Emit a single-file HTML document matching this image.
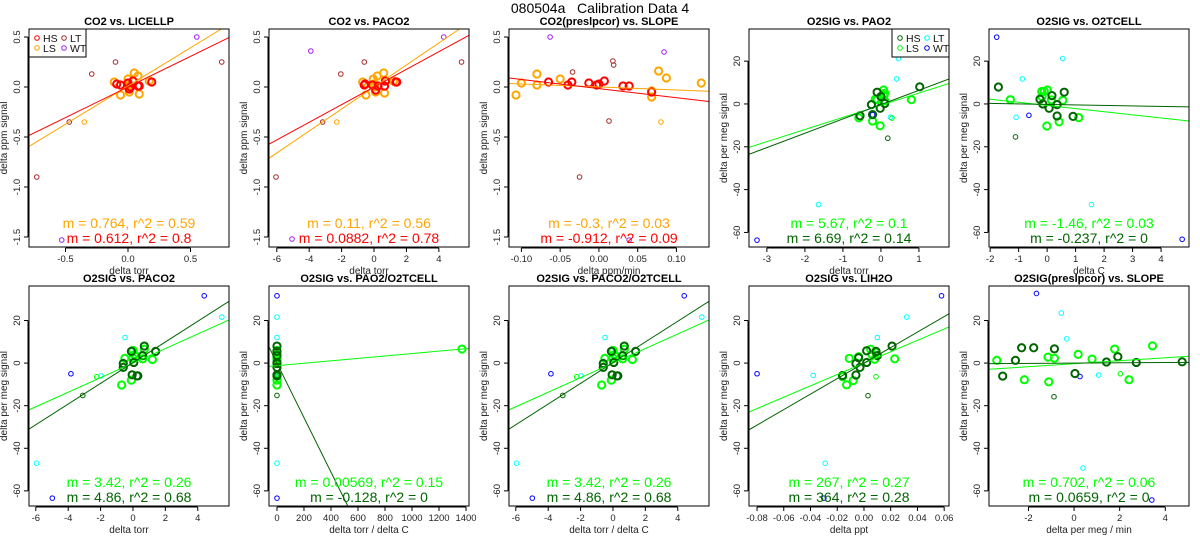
<!DOCTYPE html>
<html><head><meta charset="utf-8"><style>
html,body{margin:0;padding:0;background:#fff;width:1200px;height:550px;overflow:hidden;}
svg{display:block;font-family:"Liberation Sans",sans-serif;}
</style></head><body>
<svg id="chart" width="1200" height="550" viewBox="0 0 1200 550" xmlns="http://www.w3.org/2000/svg">
<rect width="1200" height="550" fill="#fff"/>
<text x="600" y="13" text-anchor="middle" font-size="14">080504a&#160;&#160;&#160;Calibration Data 4</text>
</svg>
<script>
// ---- data ----
const titles = ["CO2 vs. LICELLP","CO2 vs. PACO2","CO2(preslpcor) vs. SLOPE","O2SIG vs. PAO2","O2SIG vs. O2TCELL","O2SIG vs. PACO2","O2SIG vs. PAO2/O2TCELL","O2SIG vs. PACO2/O2TCELL","O2SIG vs. LIH2O","O2SIG(preslpcor) vs. SLOPE"];
const xLabels = ["delta torr","delta torr","delta ppm/min","delta torr","delta C","delta torr","delta torr / delta C","delta torr / delta C","delta ppt","delta per meg / min"];
const yLabels = ["delta ppm signal","delta ppm signal","delta ppm signal","delta per meg signal","delta per meg signal","delta per meg signal","delta per meg signal","delta per meg signal","delta per meg signal","delta per meg signal"];
const xRanges = [[-0.792,0.808],[-6.48,5.86],[-0.116,0.142],[-3.47,1.79],[-2.04,4.98],[-6.42,5.93],[-59,1422],[-6.42,5.93],[-0.086,0.0636],[-3.73,5.04]];
const xTicks = [[-0.5,0,0.5],[-6,-4,-2,0,2,4],[-0.1,-0.05,0,0.05,0.1],[-3,-2,-1,0,1],[-2,-1,0,1,2,3,4],[-6,-4,-2,0,2,4],[0,200,400,600,800,1000,1200,1400],[-6,-4,-2,0,2,4],[-0.08,-0.06,-0.04,-0.02,0,0.02,0.04,0.06],[-2,0,2,4]];
const xTickLabels = [["-0.5","0.0","0.5"],["-6","-4","-2","0","2","4"],["-0.10","-0.05","0.00","0.05","0.10"],["-3","-2","-1","0","1"],["-2","-1","0","1","2","3","4"],["-6","-4","-2","0","2","4"],["0","200","400","600","800","1000","1200","1400"],["-6","-4","-2","0","2","4"],["-0.08","-0.06","-0.04","-0.02","0.00","0.02","0.04","0.06"],["-2","0","2","4"]];
const yTicksCO2 = [-1.5,-1,-0.5,0,0.5];
const yTickLabelsCO2 = ["-1.5","-1.0","-0.5","0.0","0.5"];
const yTicksO2 = [-60,-40,-20,0,20];
const yTickLabelsO2 = ["-60","-40","-20","0","20"];
const slopesHS = [0.612,0.0882,-0.912,6.69,-0.237,4.86,-0.128,4.86,364,0.0659];
const interceptsHS = [0,0,-0.016,-0.3,-0.2,0.2,0,0.2,0,0];
const slopesLS = [0.764,0.11,-0.3,5.67,-1.46,3.42,0.00569,3.42,267,0.702];
const interceptsLS = [0.01,0,0,-0.6,-0.7,0,-1.2,0,0,-0.3];
const statsLS = ["m = 0.764, r^2 = 0.59","m = 0.11, r^2 = 0.56","m = -0.3, r^2 = 0.03","m = 5.67, r^2 = 0.1","m = -1.46, r^2 = 0.03","m = 3.42, r^2 = 0.26","m = 0.00569, r^2 = 0.15","m = 3.42, r^2 = 0.26","m = 267, r^2 = 0.27","m = 0.702, r^2 = 0.06"];
const statsHS = ["m = 0.612, r^2 = 0.8","m = 0.0882, r^2 = 0.78","m = -0.912, r^2 = 0.09","m = 6.69, r^2 = 0.14","m = -0.237, r^2 = 0","m = 4.86, r^2 = 0.68","m = -0.128, r^2 = 0","m = 4.86, r^2 = 0.68","m = 364, r^2 = 0.28","m = 0.0659, r^2 = 0"];

const p1HS=[[-0.09,0.03],[-0.06,0.02],[0,0.04],[0.01,-0.02],[0.04,0.06],[0.08,0.01],[0.09,0.01],[0.19,0.05],[0.02,0]];
const p1LS=[[-0.11,0.05],[-0.06,-0.08],[0,0.08],[0,0.03],[0.01,-0.02],[0.01,-0.05],[0.05,0.14],[0.08,0.11],[0.09,-0.07],[0.17,0.06],[0,0]];
const p1LT=[[-0.29,0.13],[-0.1,0.25],[0.75,0.25],[-0.47,-0.35],[-0.73,-0.9]];
const p1WT=[[0.55,0.5],[-0.53,-1.53]];
const p1XHS=[];const p1XLS=[[-0.35,-0.35]];
const p2HS=[[-0.6,0.02],[-0.55,0.03],[-0.1,0.02],[0.1,-0.03],[0.25,0.01],[0.65,0.01],[0.7,0.06],[1.35,0.05],[1.4,0.05]];
const p2LS=[[-0.7,0.05],[-0.5,-0.08],[-0.05,0.08],[0,0.03],[0.1,-0.05],[0.2,0.11],[0.6,0.14],[0.65,-0.06],[1.2,0.06],[0.05,0]];
const p2LT=[[-2.05,0.13],[-0.6,0.25],[5.4,0.25],[-3.17,-0.35],[-6.05,-0.9]];
const p2WT=[[-3.9,0.36],[4.3,0.5],[-5.06,-1.52]];
const p2XHS=[];const p2XLS=[[-2.3,-0.35]];
const p3HS=[[-0.065,0.05],[-0.04,0.02],[-0.035,0.05],[-0.013,0.04],[-0.003,0.02],[0,0.03],[0.007,0.06],[0.031,0.01],[0.039,0.01],[0.068,-0.05]];
const p3LS=[[-0.107,-0.08],[-0.1,0.04],[-0.08,0.13],[-0.08,0.02],[-0.05,0.08],[0.068,-0.04],[0.068,-0.1],[0.077,0.16],[0.087,0.09],[0.132,0.04]];
const p3LT=[[-0.034,0.15],[0.018,0.26],[0.019,0.22],[0.013,-0.34],[-0.025,-0.9]];
const p3WT=[[-0.063,0.5],[0.084,0.35],[0.039,-1.53]];
const p3XHS=[];const p3XLS=[[0.08,-0.35]];
const p4HS=[[-0.55,-5.5],[-0.25,-0.3],[-0.1,5.5],[-0.02,-2],[0.1,0.2],[-0.22,-5],[1.02,8],[0,3.5]];
const p4LS=[[-0.58,-6.5],[-0.22,-8],[-0.15,2.2],[-0.02,-10.2],[0.07,6.5],[0.08,4],[0.1,5],[0.8,2],[0.1,1.5],[-0.1,2]];
const p4LT=[[0.46,21.2],[0.41,11.7],[0.25,-6.2],[-1.64,-47]];
const p4WT=[[-3.26,-63.6],[-0.22,-5]];
const p4XHS=[[0.18,-16]];const p4XLS=[[0.29,-6.6]];
const p5HS=[[-1.71,7.9],[-0.25,2.2],[-0.15,0],[0.07,-2],[0.17,3.9],[0.35,-0.3],[0.35,-5.6],[0.6,5.5],[0.91,-5.8]];
const p5LS=[[-1.29,2],[-0.19,5.8],[-0.1,5.9],[0.01,6.5],[0.15,1.9],[0.55,1.7],[-0.01,-10.3],[0.42,-8.3],[1.11,-6.4],[-0.18,3.4]];
const p5LT=[[-0.87,11.7],[0.55,21.2],[-1.09,-6.2],[1.56,-47]];
const p5WT=[[-1.77,31.2],[-0.64,-5.3],[4.74,-63.2]];
const p5XHS=[[-1.11,-15.4]];const p5XLS=[];
const p6HS=[[-0.6,-0.2],[-0.6,-2],[-0.05,-5.5],[0.25,-6],[0.3,-6],[0.7,8],[0.6,3.5],[1.4,5.5],[0.05,0.3],[-0.1,5.5]];
const p6LS=[[-0.7,-10.3],[-0.1,-8],[-0.5,2.2],[0,6],[0.1,4],[0.2,3],[0.6,2],[0.7,6.5],[1.2,1.7],[0,2.4]];
const p6LT=[[5.49,21.6],[-0.49,12],[-5.95,-47],[-1.98,-6]];
const p6WT=[[4.4,31.6],[-3.83,-5],[-4.98,-63.4]];
const p6XHS=[[-3.1,-15.2]];const p6XLS=[[-2.24,-6.4]];
const p7HS=[[0,-0.2],[0,-2],[0,-5.5],[0,-6],[0,8],[0,3.5],[0,5.5],[0,0.3]];
const p7LS=[[0,-10.3],[0,-8],[0,2.2],[0,6],[0,4],[0,3],[0,2],[1370,6.6],[0,1.7],[0,-6]];
const p7LT=[[0,21.6],[0,12],[0,-47],[0,-6]];
const p7WT=[[0,31.6],[0,-5],[0,-63.4]];
const p7XHS=[[0,-15.2]];const p7XLS=[[0,-6.4]];
const p9HS=[[-0.016,-5.8],[-0.006,-5.6],[-0.003,-2],[-0.006,-0.2],[0.002,0.3],[0.002,5.8],[0.009,5.5],[0.01,3.5],[0.021,8],[-0.004,2.5]];
const p9LS=[[-0.013,-10.2],[-0.008,-8.2],[-0.011,2.2],[-0.004,3],[0.005,6.5],[0.006,4],[0.008,1.8],[0.023,2],[-0.016,-6.4],[0.009,5]];
const p9LT=[[0.032,21.6],[0.01,12],[-0.038,-5.8],[-0.029,-47]];
const p9WT=[[0.058,31.6],[-0.08,-5],[-0.03,-63.4]];
const p9XHS=[[0.003,-15.3]];const p9XLS=[[0.009,-6.4]];
const p10HS=[[-3.13,-6.1],[-2.57,1.3],[-2.3,7.2],[-1.77,7.2],[-0.86,6.7],[0.04,-4.9],[1.42,0.5],[1.92,3],[2.73,0.3],[4.74,0.6]];
const p10LS=[[-3.39,1.3],[-2.18,-7.8],[-1.14,2.8],[-1.11,-8.8],[-0.86,2.3],[0.18,4.1],[0.79,1.9],[1.78,6.6],[2.41,-7.8],[3.44,8.1]];
const p10LT=[[-0.56,23.5],[-0.32,11.4],[1.08,-5.6],[0.39,-49.3]];
const p10WT=[[-1.65,32.7],[0.26,-6.3],[3.41,-64.3]];
const p10XHS=[[-0.88,-15.8]];const p10XLS=[[2.03,-5]];

const panelPts = [
 [p1HS,p1LS,p1LT,p1WT,p1XHS,p1XLS],[p2HS,p2LS,p2LT,p2WT,p2XHS,p2XLS],[p3HS,p3LS,p3LT,p3WT,p3XHS,p3XLS],
 [p4HS,p4LS,p4LT,p4WT,p4XHS,p4XLS],[p5HS,p5LS,p5LT,p5WT,p5XHS,p5XLS],
 [p6HS,p6LS,p6LT,p6WT,p6XHS,p6XLS],[p7HS,p7LS,p7LT,p7WT,p7XHS,p7XLS],[p6HS,p6LS,p6LT,p6WT,p6XHS,p6XLS],
 [p9HS,p9LS,p9LT,p9WT,p9XHS,p9XLS],[p10HS,p10LS,p10LT,p10WT,p10XHS,p10XLS]];

// ---- drawing ----
const NS="http://www.w3.org/2000/svg";
const svg=document.getElementById('chart');
function mk(tag,attrs,parent,txt){const e=document.createElementNS(NS,tag);for(const k in attrs)e.setAttribute(k,attrs[k]);if(txt!==undefined)e.textContent=txt;(parent||svg).appendChild(e);return e;}
const CO2C={hs:"#FF0000",ls:"#FFA500",lt:"#A52A2A",wt:"#A020F0"};
const O2C={hs:"#006400",ls:"#00FF00",lt:"#00FFFF",wt:"#0000FF"};

// clip a line y=m*x+b to the box xr x yr
function clipLine(m,b,xr,yr){
  let xa=xr[0],xb=xr[1];
  if(m!==0){
    const xA=(yr[0]-b)/m, xB=(yr[1]-b)/m;
    const lo=Math.min(xA,xB), hi=Math.max(xA,xB);
    xa=Math.max(xa,lo); xb=Math.min(xb,hi);
  }
  return [xa,m*xa+b,xb,m*xb+b];
}

for(let i=0;i<10;i++){
  const row=Math.floor(i/5),col=i%5;
  const L=29+240*col, R=L+200;
  const T=row?286:29, B=row?506:247;
  const isCO2=i<3;
  const C=isCO2?CO2C:O2C;
  const yr=isCO2?[-1.6,0.58]:(row?[-67.1,36.2]:[-66.8,35.0]);
  const xr=xRanges[i];
  const sx=v=>L+(v-xr[0])/(xr[1]-xr[0])*(R-L);
  const sy=v=>B-(v-yr[0])/(yr[1]-yr[0])*(B-T);
  const g=mk('g',{});
  
  
  const cid='clip'+i;
  const cp=mk('clipPath',{id:cid},g);mk('rect',{x:L,y:T,width:R-L,height:B-T},cp);
  const t=mk('text',{x:(L+R)/2,y:T-4,'text-anchor':'middle','font-size':11,'font-weight':'bold'},g,titles[i]);
  
  
  const xt=xTicks[i];
  mk('line',{x1:sx(xt[0]),x2:sx(xt[xt.length-1]),y1:B+1,y2:B+1,stroke:'#000','stroke-width':1},g);
  xt.forEach((v,k)=>{mk('line',{x1:sx(v),x2:sx(v),y1:B+1,y2:B+5,stroke:'#000'},g);
    const lb=mk('text',{x:sx(v),y:B+15,'text-anchor':'middle','font-size':9.5,fill:'#222'},g,xTickLabels[i][k]);
    
    });
  const xl=mk('text',{x:(L+R)/2,y:B+27,'text-anchor':'middle','font-size':10,fill:'#222'},g,xLabels[i]);
  
  
  const yt=isCO2?yTicksCO2:yTicksO2, ytl=isCO2?yTickLabelsCO2:yTickLabelsO2;
  mk('line',{x1:L-1,x2:L-1,y1:sy(yt[0]),y2:sy(yt[yt.length-1]),stroke:'#000'},g);
  yt.forEach((v,k)=>{mk('line',{x1:L-1,x2:L-5,y1:sy(v),y2:sy(v),stroke:'#000'},g);
    const lb=mk('text',{x:L-9,y:sy(v),'text-anchor':'middle','font-size':9.5,fill:'#222',transform:`rotate(-90 ${L-9} ${sy(v)})`},g,ytl[k]);
    
    });
  const ylx=L-22,yly=(T+B)/2;
  const yl=mk('text',{x:ylx,y:yly,'text-anchor':'middle','font-size':10,fill:'#222',transform:`rotate(-90 ${ylx} ${yly})`},g,yLabels[i]);
  
  
  const pg=mk('g',{'clip-path':`url(#${cid})`,fill:'none'},g);
  const P=panelPts[i];
  const spec=[[P[2],C.lt,2.3,1,'lt-point'],[P[3],C.wt,2.3,1,'wt-point'],[P[4],C.hs,2.3,1,'hs-small-point'],[P[5],C.ls,2.3,1,'ls-small-point'],[P[1],C.ls,3.6,2,'ls-point'],[P[0],C.hs,3.6,2,'hs-point']];
  spec.forEach(s=>s[0].forEach(p=>{const c=mk('circle',{cx:sx(p[0]),cy:sy(p[1]),r:s[2],stroke:s[1],'stroke-width':s[3]},pg);
    
    }));
  const a=clipLine(slopesLS[i],interceptsLS[i],xr,yr);
  const l1=mk('line',{x1:sx(a[0]),y1:sy(a[1]),x2:sx(a[2]),y2:sy(a[3]),stroke:C.ls,'stroke-width':1},pg);
  
  
  const b=clipLine(slopesHS[i],interceptsHS[i],xr,yr);
  const l2=mk('line',{x1:sx(b[0]),y1:sy(b[1]),x2:sx(b[2]),y2:sy(b[3]),stroke:C.hs,'stroke-width':1},pg);
  
  
  mk('rect',{x:L,y:T,width:R-L,height:B-T,fill:'none',stroke:'#000','stroke-width':1},g);
  const s1=mk('text',{x:(L+R)/2,y:B-19,'text-anchor':'middle','font-size':14,fill:C.ls},g,statsLS[i]);
  
  
  const s2=mk('text',{x:(L+R)/2,y:B-4,'text-anchor':'middle','font-size':14,fill:C.hs},g,statsHS[i]);
  
  
  if(i===0||i===3){
    const lx=i===0?L:R-57, ly=T;
    const lg=mk('g',{},g);
    
    
    mk('rect',{x:lx,y:ly,width:57,height:28,fill:'#fff',stroke:'#000'},lg);
    const ents=[['HS',C.hs,0,0],['LS',C.ls,0,1],['LT',C.lt,1,0],['WT',C.wt,1,1]];
    ents.forEach(e=>{const cx=lx+8+e[2]*27, cy=ly+9+e[3]*10;
      const c=mk('circle',{cx:cx,cy:cy,r:2.3,fill:'none',stroke:e[1],'stroke-width':1},lg);
      
      
      const tx=mk('text',{x:cx+6,y:cy+4,'font-size':10.5,fill:'#111'},lg,e[0]);
      
      });
  }
}
</script>
</body></html>
